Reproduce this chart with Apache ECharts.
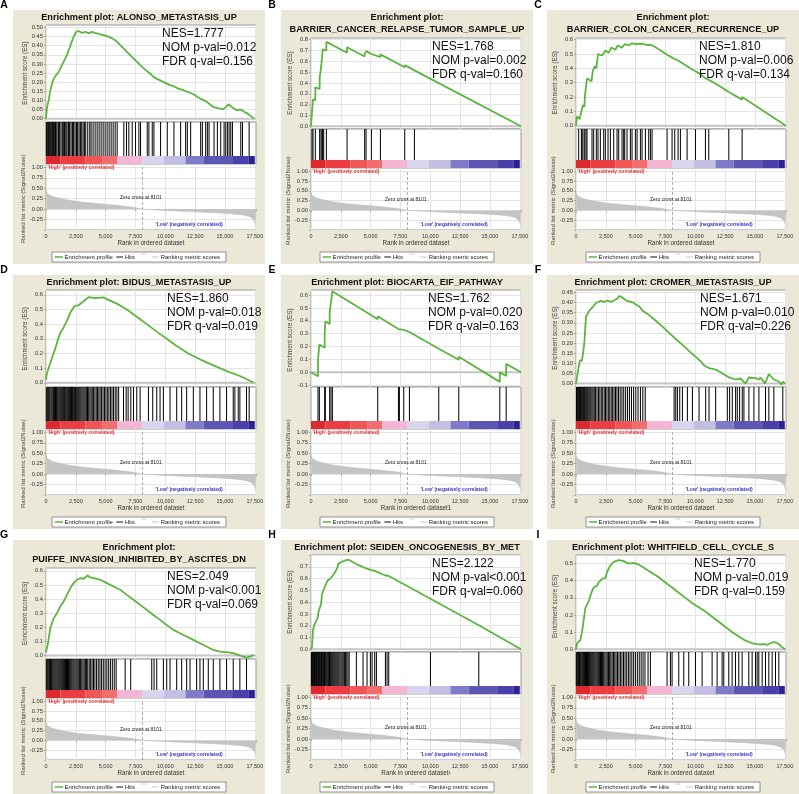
<!DOCTYPE html>
<html><head><meta charset="utf-8">
<script src="https://cdn.jsdelivr.net/npm/echarts@6/dist/echarts.min.js"></script>
<style>html,body{margin:0;padding:0;background:#fff}#c{width:799px;height:794px}</style>
</head><body><div id="c"></div>
<script>
// ---------------- DATA ----------------
const LETTERS = ['A','B','C','D','E','F','G','H','I'];
const TITLE_LINES = [
  ['Enrichment plot: ALONSO_METASTASIS_UP'],
  ['Enrichment plot:', 'BARRIER_CANCER_RELAPSE_TUMOR_SAMPLE_UP'],
  ['Enrichment plot:', 'BARRIER_COLON_CANCER_RECURRENCE_UP'],
  ['Enrichment plot: BIDUS_METASTASIS_UP'],
  ['Enrichment plot: BIOCARTA_EIF_PATHWAY'],
  ['Enrichment plot: CROMER_METASTASIS_UP'],
  ['Enrichment plot:', 'PUIFFE_INVASION_INHIBITED_BY_ASCITES_DN'],
  ['Enrichment plot: SEIDEN_ONCOGENESIS_BY_MET'],
  ['Enrichment plot: WHITFIELD_CELL_CYCLE_S']
];
const NES_TEXT = ['NES=1.777','NES=1.768','NES=1.810','NES=1.860','NES=1.762','NES=1.671','NES=2.049','NES=2.122','NES=1.770'];
const NOM_TEXT = ['NOM p-val=0.012','NOM p-val=0.002','NOM p-val=0.006','NOM p-val=0.018','NOM p-val=0.020','NOM p-val=0.010','NOM p-val<0.001','NOM p-val<0.001','NOM p-val=0.019'];
const FDR_TEXT = ['FDR q-val=0.156','FDR q-val=0.160','FDR q-val=0.134','FDR q-val=0.019','FDR q-val=0.163','FDR q-val=0.226','FDR q-val=0.069','FDR q-val=0.060','FDR q-val=0.159'];
const X_TITLES = ['Rank in ordered dataset','Rank in ordered dataset','Rank in ordered dataset','Rank in ordered dataset','Rank in ordered dataset1','Rank in ordered dataset','Rank in ordered dataset','Rank in ordered dataset\u00b9','Rank in ordered dataset'];
const ES_TITLE = 'Enrichment score (ES)';
const RANK_TITLE = 'Ranked list metric (Signal2Noise)';
const LEGEND_LABELS = ['Enrichment profile', 'Hits', 'Ranking metric scores'];
const HIGH_LABEL = "'High' (positively correlated)";
const LOW_LABEL = "'Low' (negatively correlated)";
const ZERO_LABEL = 'Zero cross at 8101';
const ZERO_CROSS = 8101;
const X_MAX = 17600;
const X_TICK_STEP = 2500;

// ES axis ticks: [min, max, step, decimals, hideTopLabel]
const ES_TICKS = [
  [0,0.5,0.05,2,false],[0,0.8,0.1,1,false],[0,0.6,0.1,1,false],
  [0,0.6,0.1,1,false],[-0.1,0.6,0.1,1,false],[0,0.45,0.05,2,false],
  [0,0.6,0.1,1,false],[0,0.8,0.1,1,true],[0,0.5,0.1,1,false]
];
// visible ES value range of each plot box [bottom, top]
const ES_RANGE = [
  [-0.018,0.513],[-0.025,0.816],[-0.023,0.612],[-0.029,0.633],[-0.115,0.64],
  [-0.017,0.462],[-0.024,0.62],[-0.023,0.8],[-0.016,0.55]
];
const RANK_TICKS = [-0.5, 1.0, 0.25];
const RANK_RANGE = [-0.5, 1.08];

const RANK_METRIC = [[0,0.46],[30,0.42],[100,0.38],[250,0.34],[500,0.31],[1000,0.27],[1800,0.22],[3000,0.17],[4500,0.13],[6000,0.09],[7200,0.05],[8101,0.0],[9500,-0.025],[11000,-0.045],[12500,-0.065],[14000,-0.085],[15500,-0.11],[16500,-0.14],[17100,-0.18],[17400,-0.25],[17550,-0.35],[17600,-0.38]];

const COLORBAR = [[0,1200],[1200,3300],[3300,4700],[4700,5950],[5950,8050],[8050,9870],[9870,11690],[11690,13220],[13220,15600],[15600,17000],[17000,17500]];

const ES_A = [[0,0],[84,0.064],[223,0.10],[363,0.156],[586,0.21],[781,0.233],[900,0.228],[1060,0.256],[1200,0.262],[1339,0.293],[1450,0.29],[1618,0.33],[1758,0.348],[1820,0.345],[1897,0.375],[2000,0.39],[2093,0.412],[2200,0.428],[2316,0.449],[2430,0.462],[2539,0.476],[2734,0.48],[2900,0.474],[3013,0.47],[3150,0.478],[3292,0.476],[3450,0.468],[3571,0.467],[3700,0.475],[3850,0.476],[4050,0.47],[4269,0.467],[4550,0.462],[4827,0.458],[5100,0.452],[5385,0.445],[5600,0.438],[5803,0.43],[6000,0.418],[6222,0.403],[6500,0.385],[6780,0.366],[7050,0.348],[7338,0.33],[7600,0.312],[7896,0.293],[8150,0.278],[8454,0.262],[8750,0.245],[9012,0.229],[9300,0.218],[9570,0.21],[9850,0.2],[10128,0.192],[10400,0.184],[10686,0.178],[11100,0.165],[11523,0.156],[11950,0.145],[12360,0.134],[12650,0.122],[12918,0.11],[13200,0.102],[13476,0.092],[13750,0.078],[14034,0.064],[14300,0.06],[14592,0.055],[14800,0.052],[15010,0.06],[15150,0.07],[15289,0.079],[15420,0.07],[15568,0.064],[15780,0.055],[15987,0.046],[16200,0.05],[16405,0.049],[16600,0.038],[16823,0.031],[17100,0.018],[17437,0.0]];
const ES_B = [[0,0],[84,-0.005],[84,0.13],[168,0.125],[168,0.25],[363,0.24],[363,0.36],[727,0.345],[727,0.45],[839,0.445],[839,0.54],[923,0.535],[923,0.63],[979,0.63],[979,0.71],[1062,0.705],[1062,0.715],[1286,0.70],[1286,0.78],[3020,0.68],[3020,0.73],[4500,0.645],[4500,0.67],[4613,0.665],[4613,0.695],[5061,0.668],[5061,0.685],[5816,0.64],[5816,0.665],[7857,0.545],[7857,0.565],[8668,0.517],[8668,0.535],[17600,0.0]];
const ES_C = [[0,0],[80,0.065],[224,0.06],[300,0.045],[447,0.1],[587,0.145],[700,0.13],[760,0.22],[923,0.33],[1300,0.31],[1400,0.38],[1570,0.415],[1706,0.40],[1845,0.50],[2200,0.49],[2460,0.525],[2750,0.51],[2950,0.545],[3300,0.53],[3500,0.56],[3850,0.545],[4100,0.57],[4400,0.56],[4700,0.575],[5000,0.57],[5536,0.572],[5816,0.565],[6375,0.562],[7000,0.53],[7633,0.495],[8052,0.475],[8276,0.465],[8556,0.455],[8751,0.445],[9311,0.415],[10010,0.38],[10429,0.36],[10848,0.33],[11128,0.32],[11967,0.28],[12526,0.25],[12806,0.235],[12806,0.245],[13924,0.182],[13924,0.2],[17600,0]];
const ES_D = [[0,0.02],[84,0.067],[362,0.133],[585,0.189],[697,0.193],[780,0.233],[975,0.289],[1198,0.34],[1477,0.378],[1756,0.422],[2035,0.478],[2369,0.522],[2731,0.529],[3149,0.556],[3567,0.584],[3651,0.589],[4125,0.578],[4822,0.582],[5100,0.571],[5936,0.54],[6772,0.5],[7608,0.451],[8445,0.4],[9281,0.349],[10117,0.3],[10953,0.251],[11928,0.2],[12904,0.16],[13740,0.129],[14576,0.1],[15412,0.071],[15969,0.056],[16666,0.031],[17419,0]];
const ES_E = [[0,0],[587,-0.032],[587,0.095],[699,0.09],[699,0.215],[1146,0.19],[1146,0.295],[1202,0.292],[1202,0.395],[1566,0.375],[1566,0.465],[1678,0.459],[1678,0.55],[1789,0.544],[1789,0.63],[5592,0.413],[5592,0.435],[7326,0.336],[7326,0.346],[7409,0.341],[7409,0.351],[7773,0.33],[7773,0.34],[8248,0.313],[8248,0.323],[10709,0.183],[10709,0.193],[12386,0.097],[12386,0.12],[15825,-0.075],[15825,0.0],[16357,-0.03],[16357,0.065],[17600,0.0]];
const ES_F = [[0,0],[139,-0.008],[223,0.081],[334,0.115],[502,0.112],[697,0.2],[836,0.33],[1115,0.36],[1394,0.377],[1672,0.398],[2090,0.408],[2369,0.403],[2648,0.41],[2926,0.403],[3205,0.411],[3484,0.42],[3623,0.433],[3846,0.426],[4181,0.411],[4738,0.401],[5295,0.381],[5574,0.36],[6131,0.338],[6689,0.31],[7246,0.281],[7804,0.25],[8361,0.22],[8918,0.191],[9476,0.161],[10033,0.132],[10451,0.11],[10730,0.09],[11148,0.076],[11705,0.069],[12263,0.051],[12820,0.03],[13378,0.02],[13796,0.025],[14214,0],[14492,0.03],[15050,0.027],[15329,0.02],[15468,0.03],[15830,0],[16164,0.047],[16582,0.02],[17000,0.01],[17223,-0.005],[17334,0.01],[17500,0]];
const ES_G = [[0,0.024],[139,0.076],[362,0.194],[502,0.206],[641,0.265],[920,0.3],[1198,0.348],[1338,0.34],[1477,0.383],[1756,0.43],[2035,0.478],[2313,0.513],[2592,0.537],[2871,0.548],[3149,0.544],[3289,0.537],[3484,0.567],[3707,0.553],[3985,0.548],[4543,0.537],[5100,0.513],[5658,0.489],[6215,0.466],[6773,0.43],[7330,0.395],[7887,0.359],[8445,0.324],[9002,0.288],[9559,0.253],[10117,0.217],[10674,0.182],[11231,0.158],[11789,0.135],[12346,0.111],[12904,0.087],[13461,0.064],[14019,0.04],[14576,0.028],[15133,0.024],[15691,0.017],[16248,0],[16806,-0.014],[17085,-0.007],[17419,0.005]];
const ES_H = [[0,0],[84,0.02],[168,0.165],[280,0.208],[419,0.237],[559,0.266],[643,0.324],[839,0.382],[923,0.469],[1062,0.483],[1202,0.541],[1398,0.584],[1622,0.599],[1845,0.628],[2041,0.657],[2181,0.686],[2321,0.729],[2600,0.743],[2880,0.755],[3159,0.76],[3803,0.723],[3803,0.729],[4362,0.697],[4362,0.703],[4697,0.684],[4697,0.69],[4977,0.674],[4977,0.68],[5117,0.672],[5117,0.678],[5340,0.665],[5340,0.671],[5480,0.663],[5480,0.669],[6235,0.626],[6235,0.632],[6375,0.624],[6375,0.63],[6515,0.622],[6515,0.628],[10010,0.429],[10010,0.435],[14064,0.204],[14064,0.214],[17600,0]];
const ES_I = [[0,0],[84,0.034],[224,0.034],[363,0.054],[503,0.1],[643,0.17],[783,0.24],[923,0.26],[1062,0.28],[1202,0.31],[1342,0.34],[1482,0.36],[1622,0.355],[1762,0.37],[1901,0.39],[2041,0.40],[2181,0.41],[2321,0.42],[2460,0.415],[2600,0.45],[2740,0.47],[2880,0.49],[3159,0.51],[3579,0.52],[3998,0.514],[4418,0.50],[4837,0.504],[5256,0.494],[5816,0.47],[6375,0.445],[6934,0.42],[7493,0.39],[8052,0.36],[8612,0.33],[9171,0.30],[9730,0.27],[10290,0.245],[10849,0.22],[11408,0.19],[11967,0.16],[12526,0.13],[13085,0.1],[13644,0.075],[14204,0.05],[14763,0.035],[15182,0.03],[15461,0.028],[15741,0.03],[16021,0.026],[16300,0.035],[16580,0.042],[16800,0.038],[17000,0.03],[17300,0.01],[17530,0]];

const HITS_A = [30,84,150,220,280,364,448,532,600,644,728,790,840,924,1036,1090,1148,1260,1372,1484,1540,1596,1680,1764,1876,1930,1988,2100,2212,2270,2324,2436,2548,2600,2660,2772,2884,2996,3108,3220,3332,3500,3668,3780,3948,4116,4284,4452,4620,4788,4956,5124,5292,5460,5628,5796,5964,6524,6748,6944,7224,7504,7784,7924,8484,8624,8904,9044,9604,10164,10724,11284,11704,11844,12124,12964,13104,13384,13524,13664,14084,14364,14644,14924,15064,15204,15344,15484,15624,16324,16464,17024];
const HITS_B = [84,168,363,727,839,923,979,1062,1286,3020,4500,4613,5061,5816,7857,8668];
const HITS_C = [224,447,503,587,727,839,923,1342,1482,1706,1845,2041,2321,2460,2684,2880,3159,3439,3579,3858,3998,4082,4278,4557,4697,4977,5117,5396,5536,5816,6095,6235,6375,7633,8052,8276,8556,8751,9311,10010,10848,11128,12806,13924];
const HITS_D = [30,110,190,260,330,420,500,580,640,720,800,870,940,1010,1090,1170,1240,1320,1400,1480,1560,1650,1740,1820,1900,1980,2060,2140,2230,2320,2400,2480,2570,2660,2740,2830,2920,3010,3100,3190,3280,3380,3480,3580,3680,3780,3880,3990,4100,4210,4320,4430,4540,4660,4780,4900,5020,5140,5270,5400,5530,5660,5800,5940,6090,6494,6717,6884,7107,7330,7608,7887,8584,8946,9281,9559,9838,10396,10953,11371,11789,12347,12904,13461,14019,14576,15133,15691,15830,16109,16248,16806,17029];
const HITS_E = [587,699,1146,1202,1566,1678,1789,5592,7326,7409,7773,8248,10709,12386,15825,16357];
const HITS_F = [40,110,170,230,300,370,440,500,570,640,700,780,860,940,1010,1090,1170,1250,1340,1430,1530,1640,1760,1880,2000,2120,2240,2360,2470,2590,2710,2830,2950,3070,3190,3310,3430,3560,3700,3850,4000,4160,4320,4480,4650,4830,5010,5200,5400,5600,5800,8222,8361,8500,8695,8918,9336,9755,10312,10870,11148,11705,12681,12876,13099,13378,13517,13712,13935,14074,14492,14910,15329,15886,16164,16582,17334];
const HITS_G = [30,100,170,240,310,380,450,520,600,680,760,840,920,1000,1080,1160,1240,1320,1400,1480,1560,1640,1720,1800,1890,1980,2070,2160,2250,2340,2430,2520,2610,2700,2800,2900,3000,3100,3200,3300,3400,3500,3620,3740,3860,3980,4100,4240,4380,4520,4660,4800,4950,5100,5250,5400,5560,5720,5880,6633,7100,8863,9058,9281,9838,10117,10396,10953,11371,11789,12068,12625,12904,13183,13601,14019,14576,15133,15691,16248,16806];
const HITS_H = [40,90,140,190,240,290,340,400,460,520,580,640,700,760,820,880,940,1000,1060,1130,1200,1270,1340,1410,1480,1550,1620,1700,1780,1860,1940,2020,2100,2180,2260,2340,2430,2520,2610,2700,2800,2900,3000,3100,3200,3803,4362,4697,4977,5117,5340,5480,6235,6375,6515,10010,14064];
const HITS_I = [30,90,150,220,290,360,430,500,570,640,720,800,880,960,1040,1120,1200,1280,1360,1440,1520,1600,1690,1780,1870,1960,2050,2140,2230,2320,2420,2520,2620,2720,2820,2920,3030,3140,3250,3360,3480,3600,3720,3850,3980,4110,4250,4390,4530,4680,4830,4980,5140,5300,5460,5620,5780,6039,6235,7633,7913,8052,8612,9031,9450,10010,10569,11408,11827,12246,12386,12806,13085,13365,13644,13924,14483,14762,15042,15182,15322,15601,15881,16161,16440,16720,16999];

const ES_ALL = [ES_A, ES_B, ES_C, ES_D, ES_E, ES_F, ES_G, ES_H, ES_I];
const HITS_ALL = [HITS_A, HITS_B, HITS_C, HITS_D, HITS_E, HITS_F, HITS_G, HITS_H, HITS_I];

// ---------------- STYLE / LAYOUT ----------------
const FONT = "'Liberation Sans', Arial, Helvetica, sans-serif";
const COLORBAR_COLORS = ['#de2a2e','#ec3e42','#f05656','#f26e6e','#f4b6d2','#d9d5ee','#c2bee4','#7f7bc8','#5e56b4','#4a3fab','#2e2192'];
const GREEN = '#5cb53f';
const BEIGE = '#ebe8d7';
const BOX_BORDER = '#9c9c9c';
const GRID_LINE = '#e4e4e4';
const NES_OFFSET = [116, 121, 123, 121, 117, 124, 121, 121, 118];

// ---------------- BUILD ----------------
const grids = [], xAxes = [], yAxes = [], series = [], graphics = [];
function comma(v) { return String(Math.round(v)).replace(/\B(?=(\d{3})+(?!\d))/g, ','); }
function addGrid(g) { grids.push(Object.assign({ containLabel: false, outerBoundsMode: 'none' }, g)); return grids.length - 1; }
function addX(gi, extra) {
  xAxes.push(Object.assign({ type: 'value', gridIndex: gi, min: 0, max: X_MAX, interval: X_TICK_STEP,
    axisLabel: { show: false }, axisTick: { show: false }, axisLine: { show: false }, splitLine: { show: false } }, extra || {}));
  return xAxes.length - 1;
}
function addY(gi, extra) {
  yAxes.push(Object.assign({ type: 'value', gridIndex: gi, min: 0, max: 1,
    axisLabel: { show: false }, axisTick: { show: false }, axisLine: { show: false }, splitLine: { show: false } }, extra || {}));
  return yAxes.length - 1;
}
function gText(text, x, y, size, opts) {
  opts = opts || {};
  graphics.push({ type: 'text', z: 20, x: x, y: y, silent: true,
    style: { text: text, font: (opts.bold ? 'bold ' : '') + size + 'px ' + FONT, fill: opts.fill || '#111',
      align: opts.align || 'left', verticalAlign: 'middle' } });
}
function gLine(x1, x2, y, color, w) {
  graphics.push({ type: 'line', z: 20, silent: true, shape: { x1: x1, y1: y, x2: x2, y2: y }, style: { stroke: color, lineWidth: w } });
}

for (let i = 0; i < 9; i++) {
  const c = i % 3, r = Math.floor(i / 3);
  const BX = [13, 281, 547][c], T = [10, 275, 540][r], BW = 252;
  const PL = [46, 311, 576][c], PW = 210;
  const title = TITLE_LINES[i];
  const plotTop = T + (title.length === 2 ? 28 : 15);
  const plotBottom = T + 220;
  const H = plotBottom - plotTop;
  const esH = Math.round(H * 0.472);
  const hitsH = Math.round(H * 0.205);
  const rankH = H - esH - hitsH;
  const esTop = plotTop, hitsTop = esTop + esH, rankTop = hitsTop + hitsH;
  const [tMin, tMax, tStep, dec, hideTop] = ES_TICKS[i];
  const [rBot, rTop] = ES_RANGE[i];
  const ppu = esH / (rTop - rBot);
  const insT = (rTop - tMax) * ppu, insB = (tMin - rBot) * ppu;
  const rppu = rankH / (RANK_RANGE[1] - RANK_RANGE[0]);
  const rInsT = (RANK_RANGE[1] - RANK_TICKS[1]) * rppu;
  const cbFrac = 8 / hitsH;

  graphics.push({ type: 'rect', z: -10, silent: true, shape: { x: BX, y: T, width: BW, height: 254 }, style: { fill: BEIGE } });
  gText(LETTERS[i], BX - 9, T - 5, 10.5, { bold: true, align: 'center', fill: '#000' });
  title.forEach((t, k) => gText(t, BX + BW / 2, T + 7 + k * 12.5, 9.2, { bold: true, align: 'center', fill: '#111' }));

  const g0 = addGrid({ left: PL, top: esTop, width: PW, height: esH, show: true, backgroundColor: '#fff', borderColor: BOX_BORDER, borderWidth: 1 });
  addX(g0, { splitLine: { show: true, lineStyle: { color: GRID_LINE, width: 1 } } });
  addY(g0);
  const g1 = addGrid({ left: PL, top: esTop + insT, width: PW, height: esH - insT - insB });
  const x1 = addX(g1);
  const y1 = addY(g1, {
    min: tMin, max: tMax, interval: tStep,
    axisLabel: { show: true, fontSize: 5.8, color: '#333', margin: 3, fontFamily: FONT,
      formatter: v => (hideTop && Math.abs(v - tMax) < 1e-9) ? '' : Number(v).toFixed(dec) },
    axisTick: { show: true, length: 2, lineStyle: { color: '#888', width: 0.6 } },
    splitLine: { show: true, lineStyle: { color: GRID_LINE, width: 1 } },
    name: ES_TITLE, nameLocation: 'middle', nameGap: 18, nameMoveOverlap: false,
    nameTextStyle: { fontSize: 6.3, color: '#444', fontFamily: FONT }
  });
  series.push({ type: 'custom', xAxisIndex: x1, yAxisIndex: y1, z: 2, silent: true, clip: false, data: [[0]],
    renderItem: (p, api) => { const a = api.coord([0, 0]), b = api.coord([X_MAX, 0]);
      return { type: 'line', shape: { x1: a[0], y1: a[1], x2: b[0], y2: b[1] }, style: { stroke: '#c6c6c6', lineWidth: 2 } }; } });
  series.push({ type: 'line', xAxisIndex: x1, yAxisIndex: y1, z: 4, data: ES_ALL[i], showSymbol: false, symbol: 'none',
    clip: false, silent: true, lineStyle: { color: GREEN, width: 1.8 } });

  const g2 = addGrid({ left: PL, top: hitsTop, width: PW, height: hitsH, show: true, backgroundColor: '#fff', borderColor: BOX_BORDER, borderWidth: 1 });
  const x2 = addX(g2); const y2 = addY(g2);
  series.push({ type: 'custom', xAxisIndex: x2, yAxisIndex: y2, z: 3, silent: true, data: HITS_ALL[i].map(v => [v]),
    renderItem: (p, api) => { const v = api.value(0); const a = api.coord([v, 1]), b = api.coord([v, cbFrac]);
      return { type: 'line', shape: { x1: a[0], y1: a[1], x2: b[0], y2: b[1] }, style: { stroke: '#000', lineWidth: 1 } }; } });
  series.push({ type: 'custom', xAxisIndex: x2, yAxisIndex: y2, z: 3, silent: true, data: COLORBAR,
    renderItem: (p, api) => { const a = api.coord([api.value(0), cbFrac]), b = api.coord([api.value(1), 0]);
      return { type: 'rect', shape: { x: a[0], y: a[1], width: b[0] - a[0], height: b[1] - a[1] }, style: { fill: COLORBAR_COLORS[p.dataIndex] } }; } });

  const g3 = addGrid({ left: PL, top: rankTop, width: PW, height: rankH, show: true, backgroundColor: '#fff', borderColor: BOX_BORDER, borderWidth: 1 });
  addX(g3, { splitLine: { show: true, lineStyle: { color: GRID_LINE, width: 1 } } });
  addY(g3);
  const g4 = addGrid({ left: PL, top: rankTop + rInsT, width: PW, height: rankH - rInsT });
  const x4 = addX(g4, {
    axisLabel: { show: true, fontSize: 5.5, color: '#333', margin: 3, fontFamily: FONT,
      formatter: v => (v % X_TICK_STEP === 0 ? comma(v) : '') },
    axisTick: { show: true, length: 2, lineStyle: { color: '#888', width: 0.6 } },
    name: X_TITLES[i], nameLocation: 'middle', nameGap: 10, nameMoveOverlap: false,
    nameTextStyle: { fontSize: 6.3, color: '#333', fontFamily: FONT }
  });
  const y4 = addY(g4, {
    min: RANK_TICKS[0], max: RANK_TICKS[1], interval: RANK_TICKS[2],
    axisLabel: { show: true, fontSize: 5.8, color: '#333', margin: 3, fontFamily: FONT,
      formatter: v => (v < -0.3 ? '' : Number(v).toFixed(2)) },
    axisTick: { show: true, length: 2, lineStyle: { color: '#888', width: 0.6 } },
    splitLine: { show: true, lineStyle: { color: GRID_LINE, width: 1 } },
    name: RANK_TITLE, nameLocation: 'middle', nameGap: 20, nameMoveOverlap: false,
    nameTextStyle: { fontSize: 6, color: '#444', fontFamily: FONT }
  });
  series.push({ type: 'line', xAxisIndex: x4, yAxisIndex: y4, z: 2, silent: true, data: RANK_METRIC, showSymbol: false, symbol: 'none',
    lineStyle: { color: '#bdbdbd', width: 0.5 }, areaStyle: { color: '#c4c4c4', opacity: 1, origin: 0 },
    markLine: { silent: true, symbol: ['none', 'none'], label: { show: false },
      lineStyle: { color: '#9a9a9a', width: 0.8, type: [3, 2] }, data: [{ xAxis: ZERO_CROSS }] } });
  series.push({ type: 'custom', xAxisIndex: x4, yAxisIndex: y4, z: 5, silent: true, clip: false,
    data: [[7950, 0.27], [130, 1.0], [12000, -0.37]],
    renderItem: (p, api) => {
      const pt = api.coord([api.value(0), api.value(1)]);
      const cfg = [[ZERO_LABEL, 'center', '#222', 'normal'], [HIGH_LABEL, 'left', '#e03030', 'bold'], [LOW_LABEL, 'center', '#3a36c4', 'bold']][p.dataIndex];
      return { type: 'text', x: pt[0], y: pt[1], style: { text: cfg[0], align: cfg[1], verticalAlign: 'middle', fill: cfg[2],
        font: cfg[3] + ' 5px ' + FONT } };
    } });

  [NES_TEXT[i], NOM_TEXT[i], FDR_TEXT[i]].forEach((t, k) => gText(t, PL + NES_OFFSET[i], esTop + 8.5 + k * 14.3, 12, { fill: '#111' }));

  const LW = 174, LH = 10, LX = BX + BW / 2 - LW / 2, LY = T + 242;
  graphics.push({ type: 'rect', z: 19, silent: true, shape: { x: LX, y: LY, width: LW, height: LH }, style: { fill: '#fff', stroke: '#7a7a7a', lineWidth: 0.8 } });
  gLine(LX + 2.7, LX + 11, LY + 5, GREEN, 1.5);
  gText(LEGEND_LABELS[0], LX + 12.5, LY + 5.3, 6, { fill: '#222' });
  gLine(LX + 64.3, LX + 71, LY + 5, '#111', 1);
  gText(LEGEND_LABELS[1], LX + 72.7, LY + 5.3, 6, { fill: '#222' });
  gLine(LX + 89.3, LX + 94.3, LY + 2, '#cfcfcf', 1);
  gLine(LX + 100, LX + 106.7, LY + 5, '#c8c8c8', 1);
  gText(LEGEND_LABELS[2], LX + 108.7, LY + 5.3, 6, { fill: '#222' });
}

const chart = echarts.init(document.getElementById('c'), null, { renderer: 'canvas' });
chart.setOption({
  animation: false,
  backgroundColor: '#fff',
  textStyle: { fontFamily: FONT },
  grid: grids, xAxis: xAxes, yAxis: yAxes, series: series,
  graphic: { elements: graphics }
});
</script></body></html>
